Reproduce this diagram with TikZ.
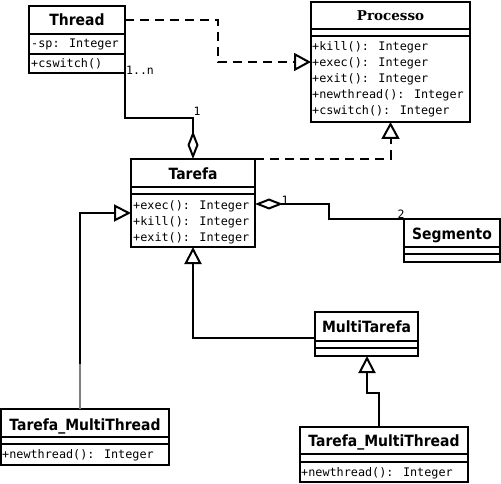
\documentclass[tikz,border=0pt]{standalone}
\usepackage{fontspec}
\newfontfamily\titlefont{DejaVu Sans}[FakeStretch=0.9]
\newfontfamily\serifttl{DejaVu Serif}
\newfontfamily\monofont{DejaVu Sans Mono}
\usetikzlibrary{arrows.meta}
\newcommand\cdiv[2]{\coordinate (tmpc) at (0,#2); \draw[line width=2pt] (#1.west |- tmpc) -- (#1.east |- tmpc);}
\begin{document}
\begin{tikzpicture}[x=1pt,y=-1pt,
  box/.style={draw, line width=2pt, inner sep=0pt, outer sep=0pt, fill=white},
  ttl/.style={anchor=base, inner sep=0pt, font=\titlefont\bfseries\fontsize{15.5}{16}\selectfont},
  sttl/.style={anchor=base, inner sep=0pt, font=\serifttl\bfseries\fontsize{13.5}{14}\selectfont},
  mth/.style={anchor=west, inner sep=0pt, font=\monofont\fontsize{11.8}{13}\selectfont},
  lbl/.style={inner sep=0pt, font=\monofont\fontsize{11.5}{12}\selectfont},
  conn/.style={line width=2pt},
  realize/.style={conn, dash pattern=on 9pt off 6pt, -{Triangle[open, length=17pt, width=18pt, fill=white]}},
  gen/.style={conn, -{Triangle[open, length=17pt, width=17pt, fill=white]}},
  aggr/.style={conn, -{Diamond[open, length=28pt, width=11pt, fill=white]}}]
\useasboundingbox (0,0) rectangle (501,484);

% class boxes
\node[box, minimum width=96pt, minimum height=67pt] (thread) at (77,39.5) {};
\node[box, minimum width=159pt, minimum height=120pt] (processo) at (390.5,62) {};
\node[box, minimum width=124pt, minimum height=88pt] (tarefa) at (193,203) {};
\node[box, minimum width=96pt, minimum height=43pt] (segmento) at (452,240.5) {};
\node[box, minimum width=103pt, minimum height=44pt] (multitarefa) at (366.5,334) {};
\node[box, minimum width=168pt, minimum height=56pt] (tmtl) at (85,437) {};
\node[box, minimum width=168pt, minimum height=55pt] (tmtr) at (384,454.5) {};

% compartments
\cdiv{thread}{34} \cdiv{thread}{54}
\cdiv{processo}{29} \cdiv{processo}{36}
\cdiv{tarefa}{187} \cdiv{tarefa}{194}
\cdiv{segmento}{247} \cdiv{segmento}{254}
\cdiv{multitarefa}{341} \cdiv{multitarefa}{348}
\cdiv{tmtl}{437} \cdiv{tmtl}{444}
\cdiv{tmtr}{454} \cdiv{tmtr}{462}

% titles
\node[ttl] (thtitle) at (77,26) {Thread};
\node[sttl] (prtitle) at (390.5,21) {Processo};
\node[ttl] (tatitle) at (193,179) {Tarefa};
\node[ttl] (setitle) at (452,239) {Segmento};
\node[ttl] (mttitle) at (366.5,332) {MultiTarefa};
\node[ttl] (tltitle) at (85,430) {Tarefa\_MultiThread};
\node[ttl] (trtitle) at (384,446.5) {Tarefa\_MultiThread};

% members
\node[mth] (th1) at (31,44) {-sp: Integer};
\node[mth] (th2) at (31,64) {+cswitch()};
\node[mth] (pr1) at (312,47.7) {+kill(): Integer};
\node[mth] (pr2) at (312,63.5) {+exec(): Integer};
\node[mth] (pr3) at (312,79.3) {+exit(): Integer};
\node[mth] (pr4) at (312,95.1) {+newthread(): Integer};
\node[mth] (pr5) at (312,110.9) {+cswitch(): Integer};
\node[mth] (ta1) at (133,206) {+exec(): Integer};
\node[mth] (ta2) at (133,222) {+kill(): Integer};
\node[mth] (ta3) at (133,238) {+exit(): Integer};
\node[mth] (tl1) at (2,455) {+newthread(): Integer};
\node[mth] (tr1) at (301,473) {+newthread(): Integer};

% bend points
\coordinate (b0) at (218,20);
\coordinate (b1) at (218,62);
\coordinate (a1) at (125,118);
\coordinate (sb) at (329,204);
\coordinate (gb) at (80,213);
\coordinate (gm) at (80,364);
\coordinate (mb) at (193,338);
\coordinate (r1) at (379,393);
\coordinate (r2) at (367,393);

% connectors
\draw[realize] (thread.east |- b0) -- (b0) -- (b1) -- (processo.west |- b1);
\draw[aggr] (thread.south east) -- (a1) -| (tarefa.north);
\draw[realize] (tarefa.north east) -| (processo.south);
\draw[aggr] (segmento.north west) -| (sb) -- (tarefa.east |- sb);
\draw[gray, line width=1.3pt] (tmtl.north -| gm) -- (gm);
\draw[gen] (gm) -- (gb) -- (tarefa.west |- gb);
\draw[gen] (multitarefa.west |- mb) -- (mb) -- (tarefa.south);
\draw[gen] (tmtr.north -| r1) -- (r1) -- (r2) -- (multitarefa.south -| r2);

% multiplicities
\node[lbl, anchor=west] (m1) at (126,70) {1..n};
\node[lbl] (m2) at (197,111) {1};
\node[lbl] (m3) at (285,200) {1};
\node[lbl] (m4) at (401,214) {2};
\end{tikzpicture}
\end{document}
